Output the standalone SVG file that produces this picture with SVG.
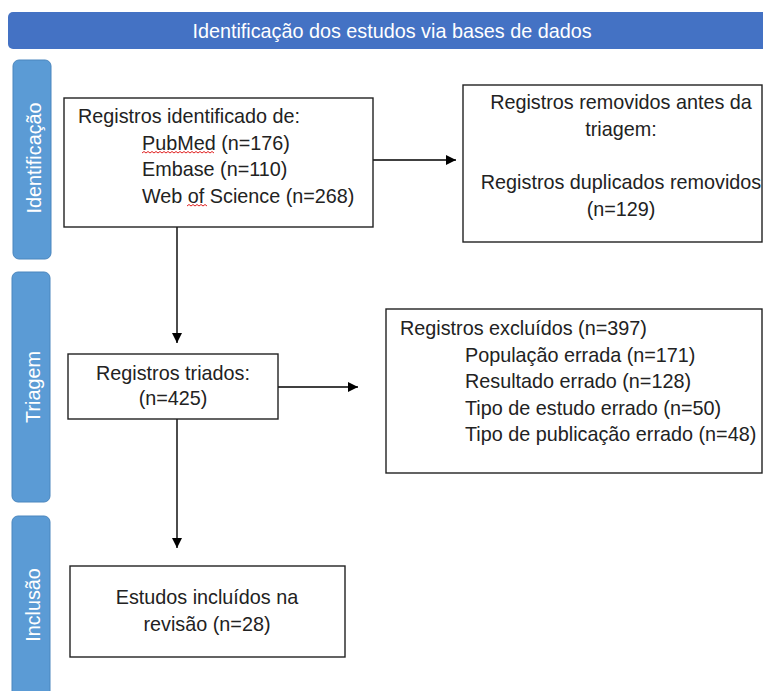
<svg xmlns="http://www.w3.org/2000/svg" width="763" height="691" viewBox="0 0 763 691">
<defs>
<style>
.t{font-family:"Liberation Sans",Arial,sans-serif;font-size:19.8px;fill:#222}
.w{font-family:"Liberation Sans",Arial,sans-serif;font-size:19.8px;fill:#fff}
.box{fill:#fff;stroke:#222;stroke-width:1.4}
.side{fill:#5B9BD5;stroke:#4A86BE;stroke-width:1}
.ln{stroke:#000;stroke-width:1.4;fill:none}
.sq{stroke:#e02020;stroke-width:1;fill:none}
</style>
<marker id="ah" viewBox="0 0 10 10" refX="10" refY="5" markerWidth="10" markerHeight="10" markerUnits="userSpaceOnUse" orient="auto">
<path d="M0,0 L10,5 L0,10 z" fill="#000"/>
</marker>
</defs>
<rect width="763" height="691" fill="#fff"/>
<g id="header">
<rect x="8" y="12" width="760" height="37" rx="5" fill="#4472C4"/>
<text class="w" x="392" y="38" text-anchor="middle">Identificação dos estudos via bases de dados</text>
</g>
<g id="side-identificacao">
<rect class="side" x="13" y="60" width="38" height="199" rx="6"/>
<text class="w" transform="translate(41,158) rotate(-90)" text-anchor="middle">Identificação</text>
</g>
<g id="side-triagem">
<rect class="side" x="12" y="272" width="38" height="230" rx="6"/>
<text class="w" transform="translate(40,387) rotate(-90)" text-anchor="middle">Triagem</text>
</g>
<g id="side-inclusao">
<rect class="side" x="12" y="516" width="38" height="190" rx="6"/>
<text class="w" transform="translate(40,605) rotate(-90)" text-anchor="middle">Inclusão</text>
</g>
<g id="connectors">
<line class="ln" x1="373" y1="160" x2="456" y2="160" marker-end="url(#ah)"/>
<line class="ln" x1="177" y1="227" x2="177" y2="343" marker-end="url(#ah)"/>
<line class="ln" x1="278" y1="387" x2="358" y2="387" marker-end="url(#ah)"/>
<line class="ln" x1="177" y1="419" x2="177" y2="548" marker-end="url(#ah)"/>
</g>
<g id="identified">
<rect class="box" x="64" y="98" width="309" height="129"/>
<text class="t" x="78" y="123">Registros identificado de:</text>
<text class="t" x="142" y="149.5">PubMed (n=176)</text>
<text class="t" x="142" y="176">Embase (n=110)</text>
<text class="t" x="142" y="202.5">Web of Science (n=268)</text>
<path class="sq" d="M142,153 l2,-1.5 l2,1.5 l2,-1.5 l2,1.5 l2,-1.5 l2,1.5 l2,-1.5 l2,1.5 l2,-1.5 l2,1.5 l2,-1.5 l2,1.5 l2,-1.5 l2,1.5 l2,-1.5 l2,1.5 l2,-1.5 l2,1.5 l2,-1.5 l2,1.5 l2,-1.5 l2,1.5 l2,-1.5 l2,1.5 l2,-1.5 l2,1.5 l2,-1.5 l2,1.5 l2,-1.5 l2,1.5 l2,-1.5 l2,1.5 l2,-1.5 l2,1.5 l2,-1.5 l2,1.5"/>
<path class="sq" d="M187,206 l2,-1.5 l2,1.5 l2,-1.5 l2,1.5 l2,-1.5 l2,1.5 l2,-1.5 l2,1.5 l2,-1.5 l2,1.5"/>
</g>
<g id="removed">
<rect class="box" x="463" y="85" width="299" height="157"/>
<text class="t" x="621" y="109" text-anchor="middle">Registros removidos antes da</text>
<text class="t" x="621" y="136" text-anchor="middle">triagem:</text>
<text class="t" x="621" y="189" text-anchor="middle">Registros duplicados removidos</text>
<text class="t" x="621" y="216" text-anchor="middle">(n=129)</text>
</g>
<g id="screened">
<rect class="box" x="68" y="354" width="210" height="65"/>
<text class="t" x="173" y="380" text-anchor="middle">Registros triados:</text>
<text class="t" x="173" y="405" text-anchor="middle">(n=425)</text>
</g>
<g id="excluded">
<rect class="box" x="386" y="309" width="376" height="164"/>
<text class="t" x="400" y="335">Registros excluídos (n=397)</text>
<text class="t" x="465" y="361.5">População errada (n=171)</text>
<text class="t" x="465" y="388">Resultado errado (n=128)</text>
<text class="t" x="465" y="414.5">Tipo de estudo errado (n=50)</text>
<text class="t" x="465" y="441">Tipo de publicação errado (n=48)</text>
</g>
<g id="included">
<rect class="box" x="70" y="566" width="275" height="91"/>
<text class="t" x="207" y="604" text-anchor="middle">Estudos incluídos na</text>
<text class="t" x="207" y="631" text-anchor="middle">revisão (n=28)</text>
</g>
</svg>
